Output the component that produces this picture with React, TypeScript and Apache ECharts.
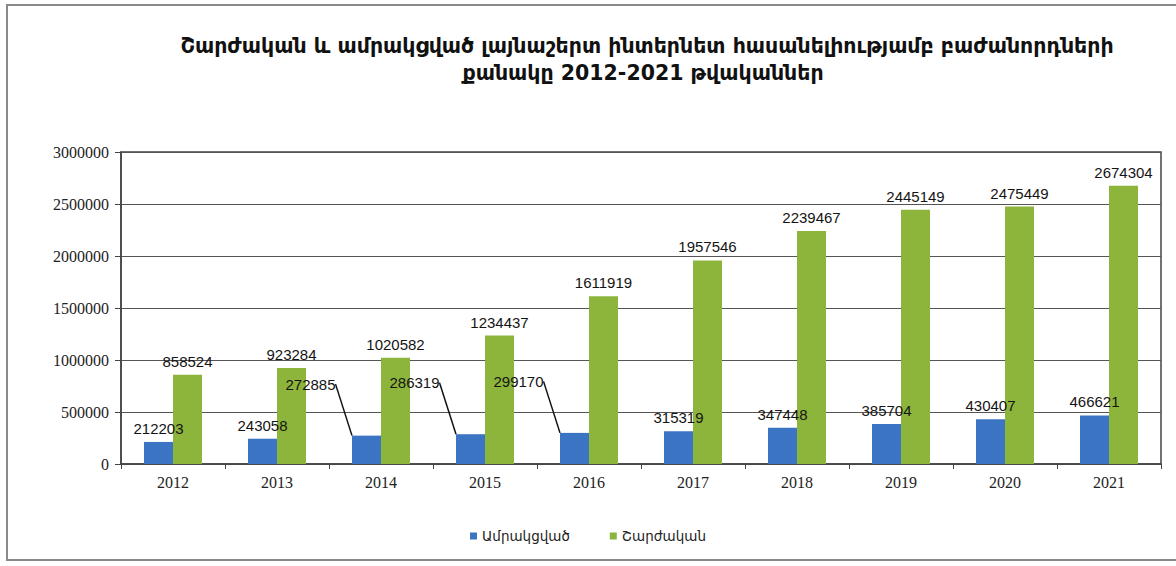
import React, { useEffect, useRef } from "react";
import * as echarts from "echarts";

const years = ["2012", "2013", "2014", "2015", "2016", "2017", "2018", "2019", "2020", "2021"];
const fixedValues = [212203, 243058, 272885, 286319, 299170, 315319, 347448, 385704, 430407, 466621];
const mobileValues = [858524, 923284, 1020582, 1234437, 1611919, 1957546, 2239467, 2445149, 2475449, 2674304];
const seriesNames = ["Ամրակցված", "Շարժական"];
const titleLines = [
  "Շարժական և ամրակցված լայնաշերտ ինտերնետ հասանելիությամբ բաժանորդների",
  "քանակը 2012-2021 թվականներ",
];
const movedLabelIndices = [2, 3, 4];

export default function App() {
  const ref = useRef<HTMLDivElement>(null);
  useEffect(() => {
    if (!ref.current) return;
    const chart = echarts.init(ref.current, null, { renderer: "svg" });
    const labelStyle = {
      show: true,
      position: "top" as const,
      distance: 6,
      color: "#141414",
      fontFamily: "Liberation Sans, Arial, sans-serif",
      fontSize: 15,
    };
    const fixedData = fixedValues.map((v, i) =>
      movedLabelIndices.includes(i)
        ? { value: v, labelLine: { show: true, lineStyle: { color: "#111", width: 1.5 } } }
        : { value: v, labelLine: { show: false } }
    );
    const titleStyle = {
      textAlign: "center" as const,
      textVerticalAlign: "middle" as const,
      fontFamily: "DejaVu Sans, sans-serif",
      fontWeight: "bold" as const,
      fontSize: 20.5,
      fill: "#111",
    };
    chart.setOption({
      animation: false,
      backgroundColor: "#ffffff",
      graphic: [
        {
          type: "rect",
          shape: { x: 7, y: 5, width: 1180, height: 555 },
          style: { fill: "none", stroke: "#8c8888", lineWidth: 2 },
          silent: true,
        },
        {
          type: "text",
          x: 647,
          y: 46,
          style: { ...titleStyle, text: titleLines[0] },
        },
        {
          type: "text",
          x: 643,
          y: 73,
          style: { ...titleStyle, text: titleLines[1] },
        },
      ],
      grid: {
        left: 121,
        right: 15,
        top: 152,
        bottom: 102,
        show: true,
        borderColor: "#444",
        borderWidth: 1.5,
        backgroundColor: "transparent",
      },
      legend: {
        bottom: 18,
        left: "center",
        itemWidth: 7,
        itemHeight: 7,
        itemGap: 40,
        icon: "rect",
        textStyle: {
          fontFamily: "DejaVu Sans, sans-serif",
          fontSize: 13.5,
          color: "#222",
        },
        data: seriesNames,
      },
      xAxis: {
        type: "category",
        data: years,
        axisLine: { lineStyle: { color: "#444", width: 1.5 } },
        axisTick: { show: true, alignWithLabel: false, length: 5, lineStyle: { color: "#444" } },
        axisLabel: {
          fontFamily: "Liberation Serif, Times New Roman, serif",
          fontSize: 16,
          color: "#222",
          margin: 10,
        },
      },
      yAxis: {
        type: "value",
        min: 0,
        max: 3000000,
        interval: 500000,
        axisLine: { show: true, lineStyle: { color: "#444", width: 1.5 } },
        axisTick: { show: true, length: 6, lineStyle: { color: "#444" } },
        splitLine: { lineStyle: { color: "#555", width: 1.2 } },
        axisLabel: {
          fontFamily: "Liberation Serif, Times New Roman, serif",
          fontSize: 16,
          color: "#222",
          margin: 12,
          formatter: (v: number) => String(v),
        },
      },
      series: [
        {
          name: seriesNames[0],
          type: "bar",
          data: fixedData,
          barWidth: 29,
          barGap: "0%",
          itemStyle: { color: "#3b74c2" },
          label: labelStyle,
          labelLayout: (params: any) =>
            movedLabelIndices.includes(params.dataIndex) ? { dx: -56, dy: -38 } : {},
        },
        {
          name: seriesNames[1],
          type: "bar",
          data: mobileValues,
          barWidth: 29,
          barGap: "0%",
          itemStyle: { color: "#8db53c" },
          label: labelStyle,
        },
      ],
    });
    return () => chart.dispose();
  }, []);
  return (
    <div
      ref={ref}
      style={{ position: "fixed", left: 0, top: 0, width: 1176, height: 566 }}
    />
  );
}
